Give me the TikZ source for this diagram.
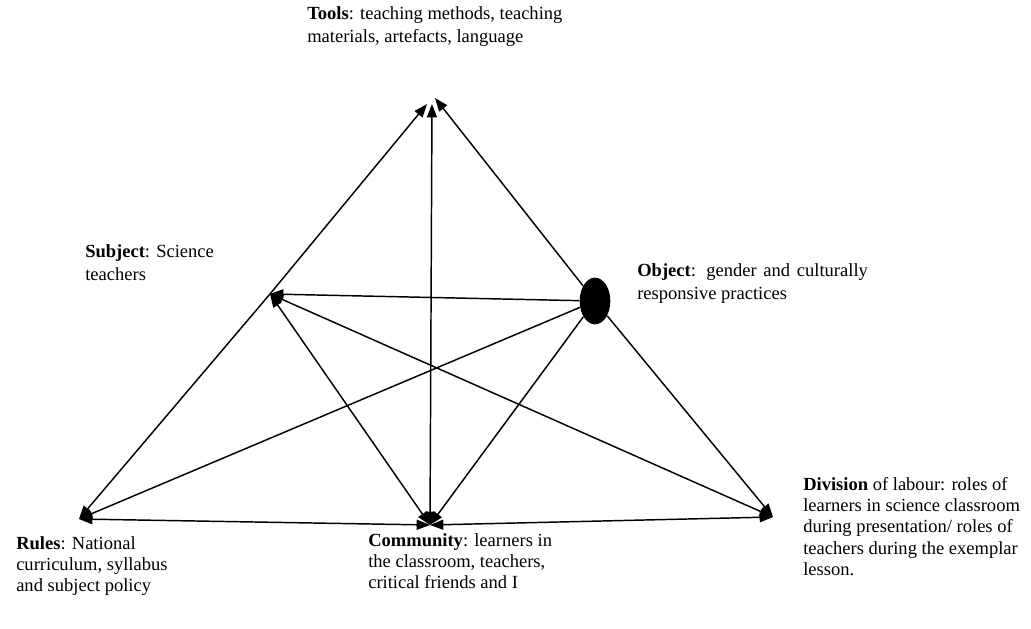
\documentclass[tikz,border=0pt]{standalone}
\usepackage{fontspec}
\setmainfont{Liberation Serif}
\usetikzlibrary{arrows.meta,shapes.geometric}
\begin{document}
\begin{tikzpicture}[x=0.75pt,y=-0.75pt,
  tip/.tip={Triangle[length=10pt,width=7.5pt]},
  link/.style={line width=1.1pt,-tip},
  both/.style={line width=1.1pt,tip-tip},
  lbl/.style={anchor=north west,inner sep=0pt,align=left,font=\fontsize{13.9}{17.6}\selectfont},
  lblb/.style={lbl,font=\fontsize{13.9}{16}\selectfont}]
\useasboundingbox (0,0) rectangle (1031,628);
% corners of the activity system
\coordinate (tools) at (432,104);
\coordinate (toolsL) at (427,104);
\coordinate (toolsR) at (435,98);
\coordinate (subj) at (270,294);
\coordinate (rules) at (79,519);
\coordinate (comm) at (430,525);
\coordinate (div) at (773,517);
\node[ellipse,fill=black,minimum width=23pt,minimum height=35pt,inner sep=0pt] (obj) at (595,301) {};
% connectors
\draw[link] (subj) -- (toolsL);
\draw[link] (subj) -- (rules);
\draw[both] (comm) -- (tools);
\draw[link] (obj) -- (toolsR);
\draw[link] (obj) -- (subj);
\draw[link] (obj) -- (rules);
\draw[link] (obj) -- (comm);
\draw[link] (obj) -- (div);
\draw[both] (subj) -- (comm);
\draw[both] (subj) -- (div);
\draw[both] (rules) -- (comm);
\draw[both] (comm) -- (div);
% labels (top edge of the first line)
\node[lbl] (tlabel) at (307,6) {\textbf{Tools}: teaching methods, teaching\\materials, artefacts, language};
\node[lbl] (slabel) at (85,244) {\textbf{Subject}: Science\\teachers};
\node[lbl] (olabel) at (637,263) {\makebox[173pt][s]{\textbf{Object}: gender and culturally}\\responsive practices};
\node[lblb] (dlabel) at (803,477) {\textbf{Division} of labour: roles of\\learners in science classroom\\during presentation/ roles of\\teachers during the exemplar\\lesson.};
\node[lblb] (rlabel) at (16,536) {\textbf{Rules}: National\\curriculum, syllabus\\and subject policy};
\node[lblb] (clabel) at (368,533) {\textbf{Community}: learners in\\the classroom, teachers,\\critical friends and I};
\end{tikzpicture}
\end{document}
